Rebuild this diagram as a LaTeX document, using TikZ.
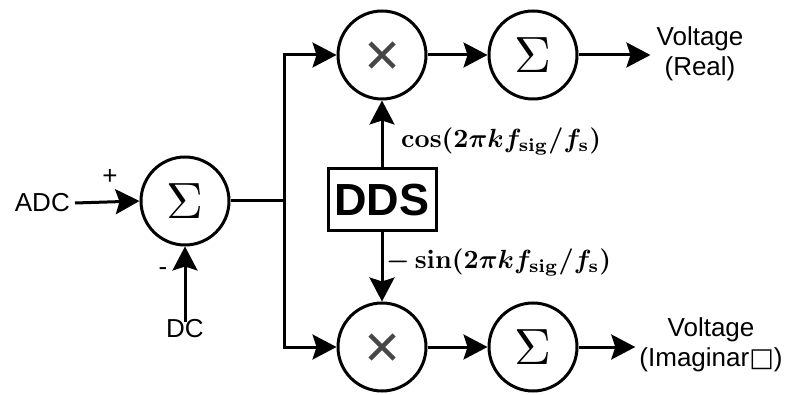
\documentclass[tikz,border=0pt]{standalone}
\usepackage[no-math]{fontspec}
\setmainfont{Liberation Sans}
\newfontfamily\boxglyphfont{DejaVu Sans}
\usetikzlibrary{arrows.meta}

\newcommand{\bigsigma}{\scalebox{5.1}{$\Sigma$}}
\newcommand{\mathlabel}[1]{\scalebox{2.63}{\boldmath$#1$}}

\tikzset{
  wire/.style={line width=3pt},
  arr/.style={wire, -{Stealth[length=24pt,width=25pt,inset=4pt]}},
  op/.style={circle, draw, line width=3pt, minimum size=88pt, inner sep=0pt},
  ddsbox/.style={draw, line width=3pt, minimum width=108pt, minimum height=62pt,
                 inner sep=0pt, font=\fontsize{45}{45}\selectfont\bfseries},
  lbl/.style={font=\fontsize{26}{30}\selectfont, inner sep=2pt},
  mathlbl/.style={inner sep=0pt},
  xmark/.style={line width=4.5pt, black!72}
}

\begin{document}
\begin{tikzpicture}[x=1pt,y=-1pt]
  \useasboundingbox (0,0) rectangle (787,395);

  % operator nodes
  \node[op] (ls) at (185,201) {\bigsigma};
  \node[op] (mt) at (382,55) {};
  \node[op] (st) at (533,55) {\bigsigma};
  \node[op] (mb) at (382,347) {};
  \node[op] (sb) at (533,347) {\bigsigma};
  \node[ddsbox] (dds) at (382,200) {DDS};

  % multiplication signs
  \foreach \n in {mt,mb}
    \draw[xmark] ([shift={(-12,-12)}]\n.center) -- ([shift={(12,12)}]\n.center)
                 ([shift={(-12,12)}]\n.center) -- ([shift={(12,-12)}]\n.center);

  % text labels
  \node[lbl, anchor=east] (adc) at (72,203) {ADC};
  \node[lbl] (dc) at (185,329) {DC};
  \node[lbl] (plus) at (110,177) {+};
  \node[lbl] (minus) at (163,272) {-};
  \node[lbl, align=center] (vr) at (700,54) {Voltage\\(Real)};
  \node[lbl, align=center] (vi) at (711,345) {Voltage\\(Imaginar{\boxglyphfont □})};
  \node[mathlbl, anchor=west] (cl) at (401,141) {\mathlabel{\cos(2\pi k f_{\mathrm{sig}}/f_{\mathrm{s}})}};
  \node[mathlbl, anchor=west] (sl) at (386,262) {\mathlabel{-\sin(2\pi k f_{\mathrm{sig}}/f_{\mathrm{s}})}};

  % connectors
  \coordinate (j) at (284,201);
  \draw[arr] ([xshift=3pt]adc.east) -- (ls.west);
  \draw[arr] ([yshift=-4pt]dc.north) -- (ls.south);
  \draw[arr] (ls.east) -- (j) |- (mt.west);
  \draw[arr] (j) |- (mb.west);
  \draw[arr] (mt) -- (st);
  \draw[arr] (mb) -- (sb);
  \draw[arr] (dds.north) -- (mt.south);
  \draw[arr] (dds.south) -- (mb.north);
  \draw[arr] (st.east) -- ([xshift=-4pt]st.east -| vr.west);
  \draw[arr] (sb.east) -- ([xshift=-2pt]sb.east -| vi.west);
\end{tikzpicture}
\end{document}
